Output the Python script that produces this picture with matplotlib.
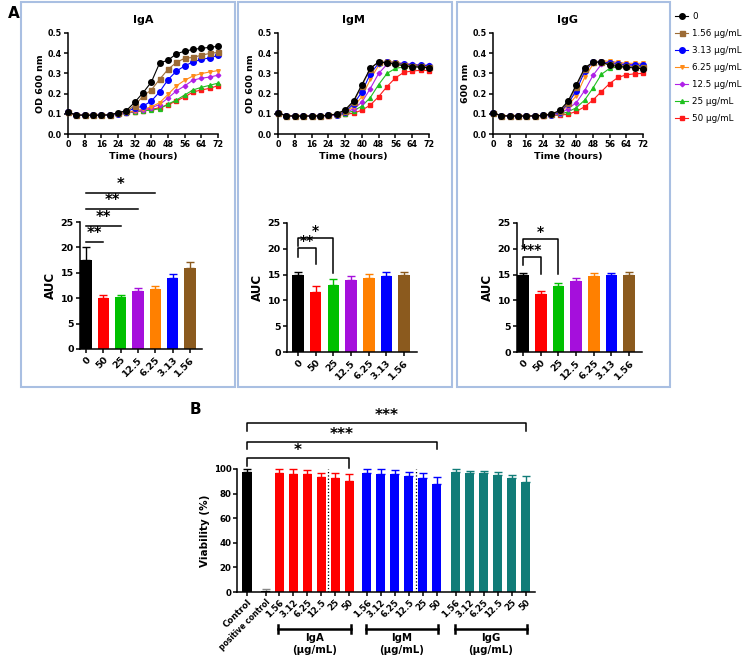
import numpy as np
import matplotlib
matplotlib.use("Agg")
import matplotlib.pyplot as plt
from matplotlib.patches import Rectangle

W, H = 744, 657

# ---- growth curves (OD 600 nm) ----
hours = [0, 4, 8, 12, 16, 20, 24, 28, 32, 36, 40, 44, 48, 52, 56, 60, 64, 68, 72]
conc_labels = ['0', '1.56 µg/mL', '3.13 µg/mL', '6.25 µg/mL', '12.5 µg/mL', '25 µg/mL', '50 µg/mL']

iga_curves = [
    [0.108, 0.094, 0.093, 0.093, 0.093, 0.095, 0.105, 0.116, 0.157, 0.204, 0.257, 0.352, 0.365, 0.397, 0.410, 0.419, 0.424, 0.429, 0.434],
    [0.108, 0.094, 0.093, 0.093, 0.093, 0.095, 0.102, 0.112, 0.140, 0.188, 0.218, 0.271, 0.320, 0.354, 0.375, 0.379, 0.390, 0.399, 0.404],
    [0.108, 0.094, 0.093, 0.093, 0.093, 0.095, 0.100, 0.110, 0.128, 0.138, 0.163, 0.209, 0.269, 0.311, 0.337, 0.357, 0.369, 0.377, 0.389],
    [0.108, 0.094, 0.093, 0.093, 0.093, 0.095, 0.098, 0.105, 0.115, 0.122, 0.135, 0.155, 0.196, 0.238, 0.266, 0.287, 0.299, 0.307, 0.314],
    [0.108, 0.094, 0.093, 0.093, 0.093, 0.095, 0.098, 0.104, 0.113, 0.120, 0.130, 0.146, 0.178, 0.213, 0.238, 0.267, 0.276, 0.282, 0.291],
    [0.108, 0.094, 0.093, 0.093, 0.093, 0.095, 0.097, 0.103, 0.111, 0.115, 0.118, 0.125, 0.148, 0.168, 0.193, 0.218, 0.231, 0.241, 0.252],
    [0.108, 0.094, 0.093, 0.093, 0.093, 0.095, 0.097, 0.103, 0.110, 0.116, 0.122, 0.130, 0.145, 0.163, 0.184, 0.208, 0.218, 0.226, 0.239],
]
igm_curves = [
    [0.105, 0.090, 0.089, 0.089, 0.089, 0.090, 0.092, 0.100, 0.120, 0.163, 0.245, 0.325, 0.357, 0.352, 0.345, 0.338, 0.333, 0.330, 0.328],
    [0.105, 0.090, 0.089, 0.089, 0.089, 0.090, 0.092, 0.098, 0.115, 0.158, 0.238, 0.322, 0.358, 0.356, 0.350, 0.343, 0.338, 0.335, 0.333],
    [0.105, 0.090, 0.089, 0.089, 0.089, 0.090, 0.092, 0.096, 0.110, 0.148, 0.208, 0.298, 0.350, 0.357, 0.352, 0.346, 0.342, 0.340, 0.338],
    [0.105, 0.090, 0.089, 0.089, 0.089, 0.090, 0.092, 0.095, 0.107, 0.135, 0.185, 0.270, 0.340, 0.360, 0.355, 0.348, 0.343, 0.340, 0.338],
    [0.105, 0.090, 0.089, 0.089, 0.089, 0.090, 0.092, 0.094, 0.103, 0.125, 0.157, 0.225, 0.300, 0.345, 0.353, 0.349, 0.345, 0.342, 0.340],
    [0.105, 0.090, 0.089, 0.089, 0.089, 0.090, 0.092, 0.093, 0.100, 0.115, 0.138, 0.180, 0.245, 0.300, 0.325, 0.332, 0.334, 0.334, 0.333],
    [0.105, 0.090, 0.089, 0.089, 0.089, 0.090, 0.091, 0.092, 0.097, 0.103, 0.118, 0.143, 0.185, 0.235, 0.278, 0.305, 0.312, 0.315, 0.314],
]
igg_curves = [
    [0.105, 0.090, 0.090, 0.089, 0.089, 0.090, 0.092, 0.098, 0.117, 0.162, 0.244, 0.327, 0.356, 0.356, 0.340, 0.335, 0.330, 0.327, 0.323],
    [0.105, 0.090, 0.090, 0.089, 0.089, 0.090, 0.092, 0.097, 0.113, 0.155, 0.235, 0.320, 0.355, 0.355, 0.345, 0.340, 0.335, 0.333, 0.330],
    [0.105, 0.090, 0.090, 0.089, 0.089, 0.090, 0.092, 0.096, 0.108, 0.150, 0.215, 0.310, 0.355, 0.357, 0.350, 0.345, 0.342, 0.340, 0.340],
    [0.105, 0.090, 0.090, 0.089, 0.089, 0.090, 0.092, 0.095, 0.105, 0.140, 0.190, 0.280, 0.345, 0.362, 0.360, 0.355, 0.350, 0.350, 0.350],
    [0.105, 0.090, 0.090, 0.089, 0.089, 0.090, 0.092, 0.094, 0.100, 0.125, 0.155, 0.215, 0.290, 0.345, 0.355, 0.350, 0.345, 0.343, 0.340],
    [0.105, 0.090, 0.090, 0.089, 0.089, 0.090, 0.092, 0.093, 0.097, 0.110, 0.130, 0.168, 0.228, 0.295, 0.325, 0.332, 0.333, 0.333, 0.333],
    [0.105, 0.090, 0.090, 0.089, 0.089, 0.090, 0.091, 0.092, 0.093, 0.098, 0.112, 0.135, 0.168, 0.210, 0.250, 0.280, 0.293, 0.298, 0.300],
]

# ---- AUC bars ----
auc_labels = ['0', '50', '25', '12.5', '6.25', '3.13', '1.56']
iga_auc = [17.5, 10.1, 10.2, 11.5, 11.9, 13.9, 15.9]
iga_auc_err = [2.5, 0.6, 0.4, 0.5, 0.6, 0.8, 1.3]
igm_auc = [15.0, 11.7, 12.9, 13.9, 14.4, 14.8, 15.0]
igm_auc_err = [0.5, 1.0, 1.2, 0.9, 0.7, 0.7, 0.5]
igg_auc = [14.9, 11.2, 12.7, 13.7, 14.7, 14.9, 15.0]
igg_auc_err = [0.4, 0.7, 0.6, 0.6, 0.6, 0.4, 0.5]

# ---- viability (panel B) ----
dose_labels = ['1.56', '3.12', '6.25', '12.5', '25', '50']
control_val, control_err = 97.4, 2.7
posctrl_val, posctrl_err = 1.0, 1.5
iga_via = [96.9, 96.0, 96.0, 93.3, 92.8, 90.6]
iga_via_err = [3.1, 3.8, 3.3, 3.8, 4.3, 5.7]
igm_via = [96.6, 96.3, 96.0, 94.7, 93.0, 88.2]
igm_via_err = [3.4, 3.7, 3.3, 3.0, 4.1, 5.6]
igg_via = [97.4, 96.6, 96.6, 95.0, 92.6, 89.4]
igg_via_err = [2.6, 1.7, 1.7, 2.6, 2.8, 5.2]

line_colors = ['black', '#9c6b35', '#0000ff', '#ff8c1a', '#b020e8', '#1fc01f', '#ff1a1a']
line_markers = ['o', 's', 'o', 'v', 'D', '^', 's']
line_msizes = [4.0, 3.6, 4.0, 2.6, 2.3, 2.8, 2.8]
bar_colors = ['black', '#ff0000', '#00c000', '#a50fdc', '#ff8000', '#0000ff', '#8b5a1e']
teal = '#117c78'
box_color = '#a9bfe2'


def px_axes(fig, x0, y0, x1, y1):
    return fig.add_axes([x0 / W, 1 - y1 / H, (x1 - x0) / W, (y1 - y0) / H])


def style_axes(ax, fs=6.0, pad=1.5):
    for s in ['top', 'right']:
        ax.spines[s].set_visible(False)
    for s in ['left', 'bottom']:
        ax.spines[s].set_linewidth(1.1)
    ax.tick_params(width=1.1, length=3, labelsize=fs, pad=pad)
    for lab in ax.get_xticklabels() + ax.get_yticklabels():
        lab.set_fontweight('bold')


def growth_plot(fig, rect, curves, title, ylabel):
    ax = px_axes(fig, *rect)
    handles = []
    for i in reversed(range(len(curves))):
        h, = ax.plot(hours, curves[i], color=line_colors[i], marker=line_markers[i],
                     markersize=line_msizes[i], linewidth=0.8, clip_on=False, zorder=3 + (7 - i))
        handles.append(h)
    ax.set_xlim(0, 72)
    ax.set_ylim(0, 0.5)
    ax.set_xticks(range(0, 73, 8))
    ax.set_yticks([0, 0.1, 0.2, 0.3, 0.4, 0.5])
    ax.set_yticklabels(['0.0', '0.1', '0.2', '0.3', '0.4', '0.5'])
    style_axes(ax, fs=5.8)
    ax.set_title(title, fontsize=8, fontweight='bold', pad=7)
    ax.set_xlabel('Time (hours)', fontsize=6.8, fontweight='bold', labelpad=2)
    ax.set_ylabel(ylabel, fontsize=6.8, fontweight='bold', labelpad=2)
    return handles[::-1]


def auc_plot(fig, rect, vals, errs, xlim):
    ax = px_axes(fig, *rect)
    x = np.arange(len(vals))
    ax.bar(x, vals, width=0.66, color=bar_colors, zorder=2)
    for i in range(len(vals)):
        ax.errorbar(x[i], vals[i], yerr=[[0], [errs[i]]], color=bar_colors[i],
                    capsize=3, elinewidth=1, capthick=1, zorder=1)
    ax.set_xlim(*xlim)
    ax.set_ylim(0, 25)
    ax.set_yticks(range(0, 26, 5))
    ax.set_xticks(x)
    ax.set_xticklabels(auc_labels, rotation=45, ha='right', rotation_mode='anchor')
    style_axes(ax, fs=6.8)
    ax.set_ylabel('AUC', fontsize=8.5, fontweight='bold', labelpad=3)
    return ax


def bracket(ax, x0, x1, y, yl, yr, star, fs=10, lw=1.1):
    ax.plot([x0, x0, x1, x1], [yl, y, y, yr], color='black', linewidth=lw, clip_on=False)
    ax.text((x0 + x1) / 2, y, star, ha='center', va='bottom', fontsize=fs, fontweight='bold')


def main():
    fig = plt.figure(figsize=(W / 100, H / 100), dpi=100)

    # panel boxes
    for x0, x1 in [(21, 235), (238, 452), (457, 670)]:
        fig.patches.append(Rectangle((x0 / W, 1 - 387 / H), (x1 - x0) / W, 385 / H,
                                     transform=fig.transFigure, fill=False,
                                     edgecolor=box_color, linewidth=1.5))

    fig.text(8 / W, 1 - 13 / H, 'A', fontsize=11, fontweight='bold', va='center')
    fig.text(190 / W, 1 - 410 / H, 'B', fontsize=11, fontweight='bold', va='center')

    handles = growth_plot(fig, (68, 33, 218, 134), iga_curves, 'IgA', 'OD 600 nm')
    growth_plot(fig, (278, 33, 429, 134), igm_curves, 'IgM', 'OD 600 nm')
    growth_plot(fig, (493, 33, 643, 134), igg_curves, 'IgG', '600 nm')

    fig.legend(handles, conc_labels, loc='upper left', bbox_to_anchor=(675 / W, 1 - 12 / H),
               frameon=False, fontsize=6.3, handlelength=1.5, labelspacing=0.92,
               handletextpad=0.5, borderaxespad=0, borderpad=0)

    # AUC bar charts
    ax = auc_plot(fig, (80, 222, 202, 349), iga_auc, iga_auc_err, (-0.35, 6.7))
    for k, (y, star) in enumerate([(21.1, '**'), (24.2, '**'), (27.6, '**'), (30.7, '*')]):
        ax.plot([0, k + 1], [y, y], color='black', linewidth=1.1, clip_on=False)
        ax.text((k + 1) / 2, y + 0.2, star, ha='center', va='bottom', fontsize=10.5, fontweight='bold')

    ax = auc_plot(fig, (287, 223, 417, 352), igm_auc, igm_auc_err, (-0.62, 6.73))
    bracket(ax, 0, 1, 20.2, 18.4, 17.0, '**')
    bracket(ax, 0, 2, 22.1, 20.6, 15.3, '*')

    ax = auc_plot(fig, (517, 223, 642, 352), igg_auc, igg_auc_err, (-0.34, 6.73))
    bracket(ax, 0, 1, 18.4, 16.9, 15.1, '***')
    bracket(ax, 0, 2, 21.9, 20.3, 15.1, '*')

    # panel B viability
    ax = px_axes(fig, 237, 469, 535, 592)
    iga_x = 2.3 + np.arange(6)
    igm_x = 8.55 + np.arange(6)
    igg_x = 14.9 + np.arange(6)
    groups = [([0], [control_val], [control_err], 'black', 'black'),
              ([1.35], [posctrl_val], [posctrl_err], 'black', '#888888'),
              (iga_x, iga_via, iga_via_err, '#ff0000', '#ff0000'),
              (igm_x, igm_via, igm_via_err, '#0000ff', '#0000ff'),
              (igg_x, igg_via, igg_via_err, teal, teal)]
    for xs, vals, errs, col, ecol in groups:
        ax.bar(xs, vals, width=0.66, color=col, zorder=2)
        ax.errorbar(xs, vals, yerr=[np.zeros(len(vals)), errs], fmt='none', ecolor=ecol,
                    capsize=3, elinewidth=1, capthick=1, zorder=1, clip_on=False)
    for xd in [5.8, 12.05]:
        ax.plot([xd, xd], [0, 100], color='black', linestyle=':', linewidth=0.9, zorder=3)
    ax.set_xlim(-0.71, 20.57)
    ax.set_ylim(0, 100)
    ax.set_yticks(range(0, 101, 20))
    all_x = [0, 1.35] + list(iga_x) + list(igm_x) + list(igg_x)
    all_lab = ['Control', 'positive control'] + dose_labels * 3
    ax.set_xticks(all_x)
    ax.set_xticklabels(all_lab, rotation=45, ha='right', rotation_mode='anchor')
    style_axes(ax, fs=6.2, pad=1.0)
    ax.get_xticklabels()[1].set_fontsize(5.5)
    ax.set_ylabel('Viability (%)', fontsize=7.5, fontweight='bold', labelpad=3)

    bracket(ax, 0, iga_x[-1], 108.6, 102.5, 100.5, '*', fs=11)
    bracket(ax, 0, igm_x[-1], 121.9, 116.0, 116.0, '***', fs=11)
    bracket(ax, 0, igg_x[-1], 137.7, 131.0, 131.0, '***', fs=11)

    for xs, name in [(iga_x, 'IgA'), (igm_x, 'IgM'), (igg_x, 'IgG')]:
        x0, x1 = xs[0] - 0.05, xs[-1] + 0.1
        ax.plot([x0, x1], [-30.2, -30.2], color='black', linewidth=1.8, clip_on=False)
        for xe in (x0, x1):
            ax.plot([xe, xe], [-27.2, -33.2], color='black', linewidth=1.8, clip_on=False)
        ax.text((x0 + x1) / 2, -33.5, name + '\n(µg/mL)', ha='center', va='top',
                fontsize=7.3, fontweight='bold', linespacing=1.2)

    fig.savefig('out.png', dpi=100)


if __name__ == "__main__":
    main()
